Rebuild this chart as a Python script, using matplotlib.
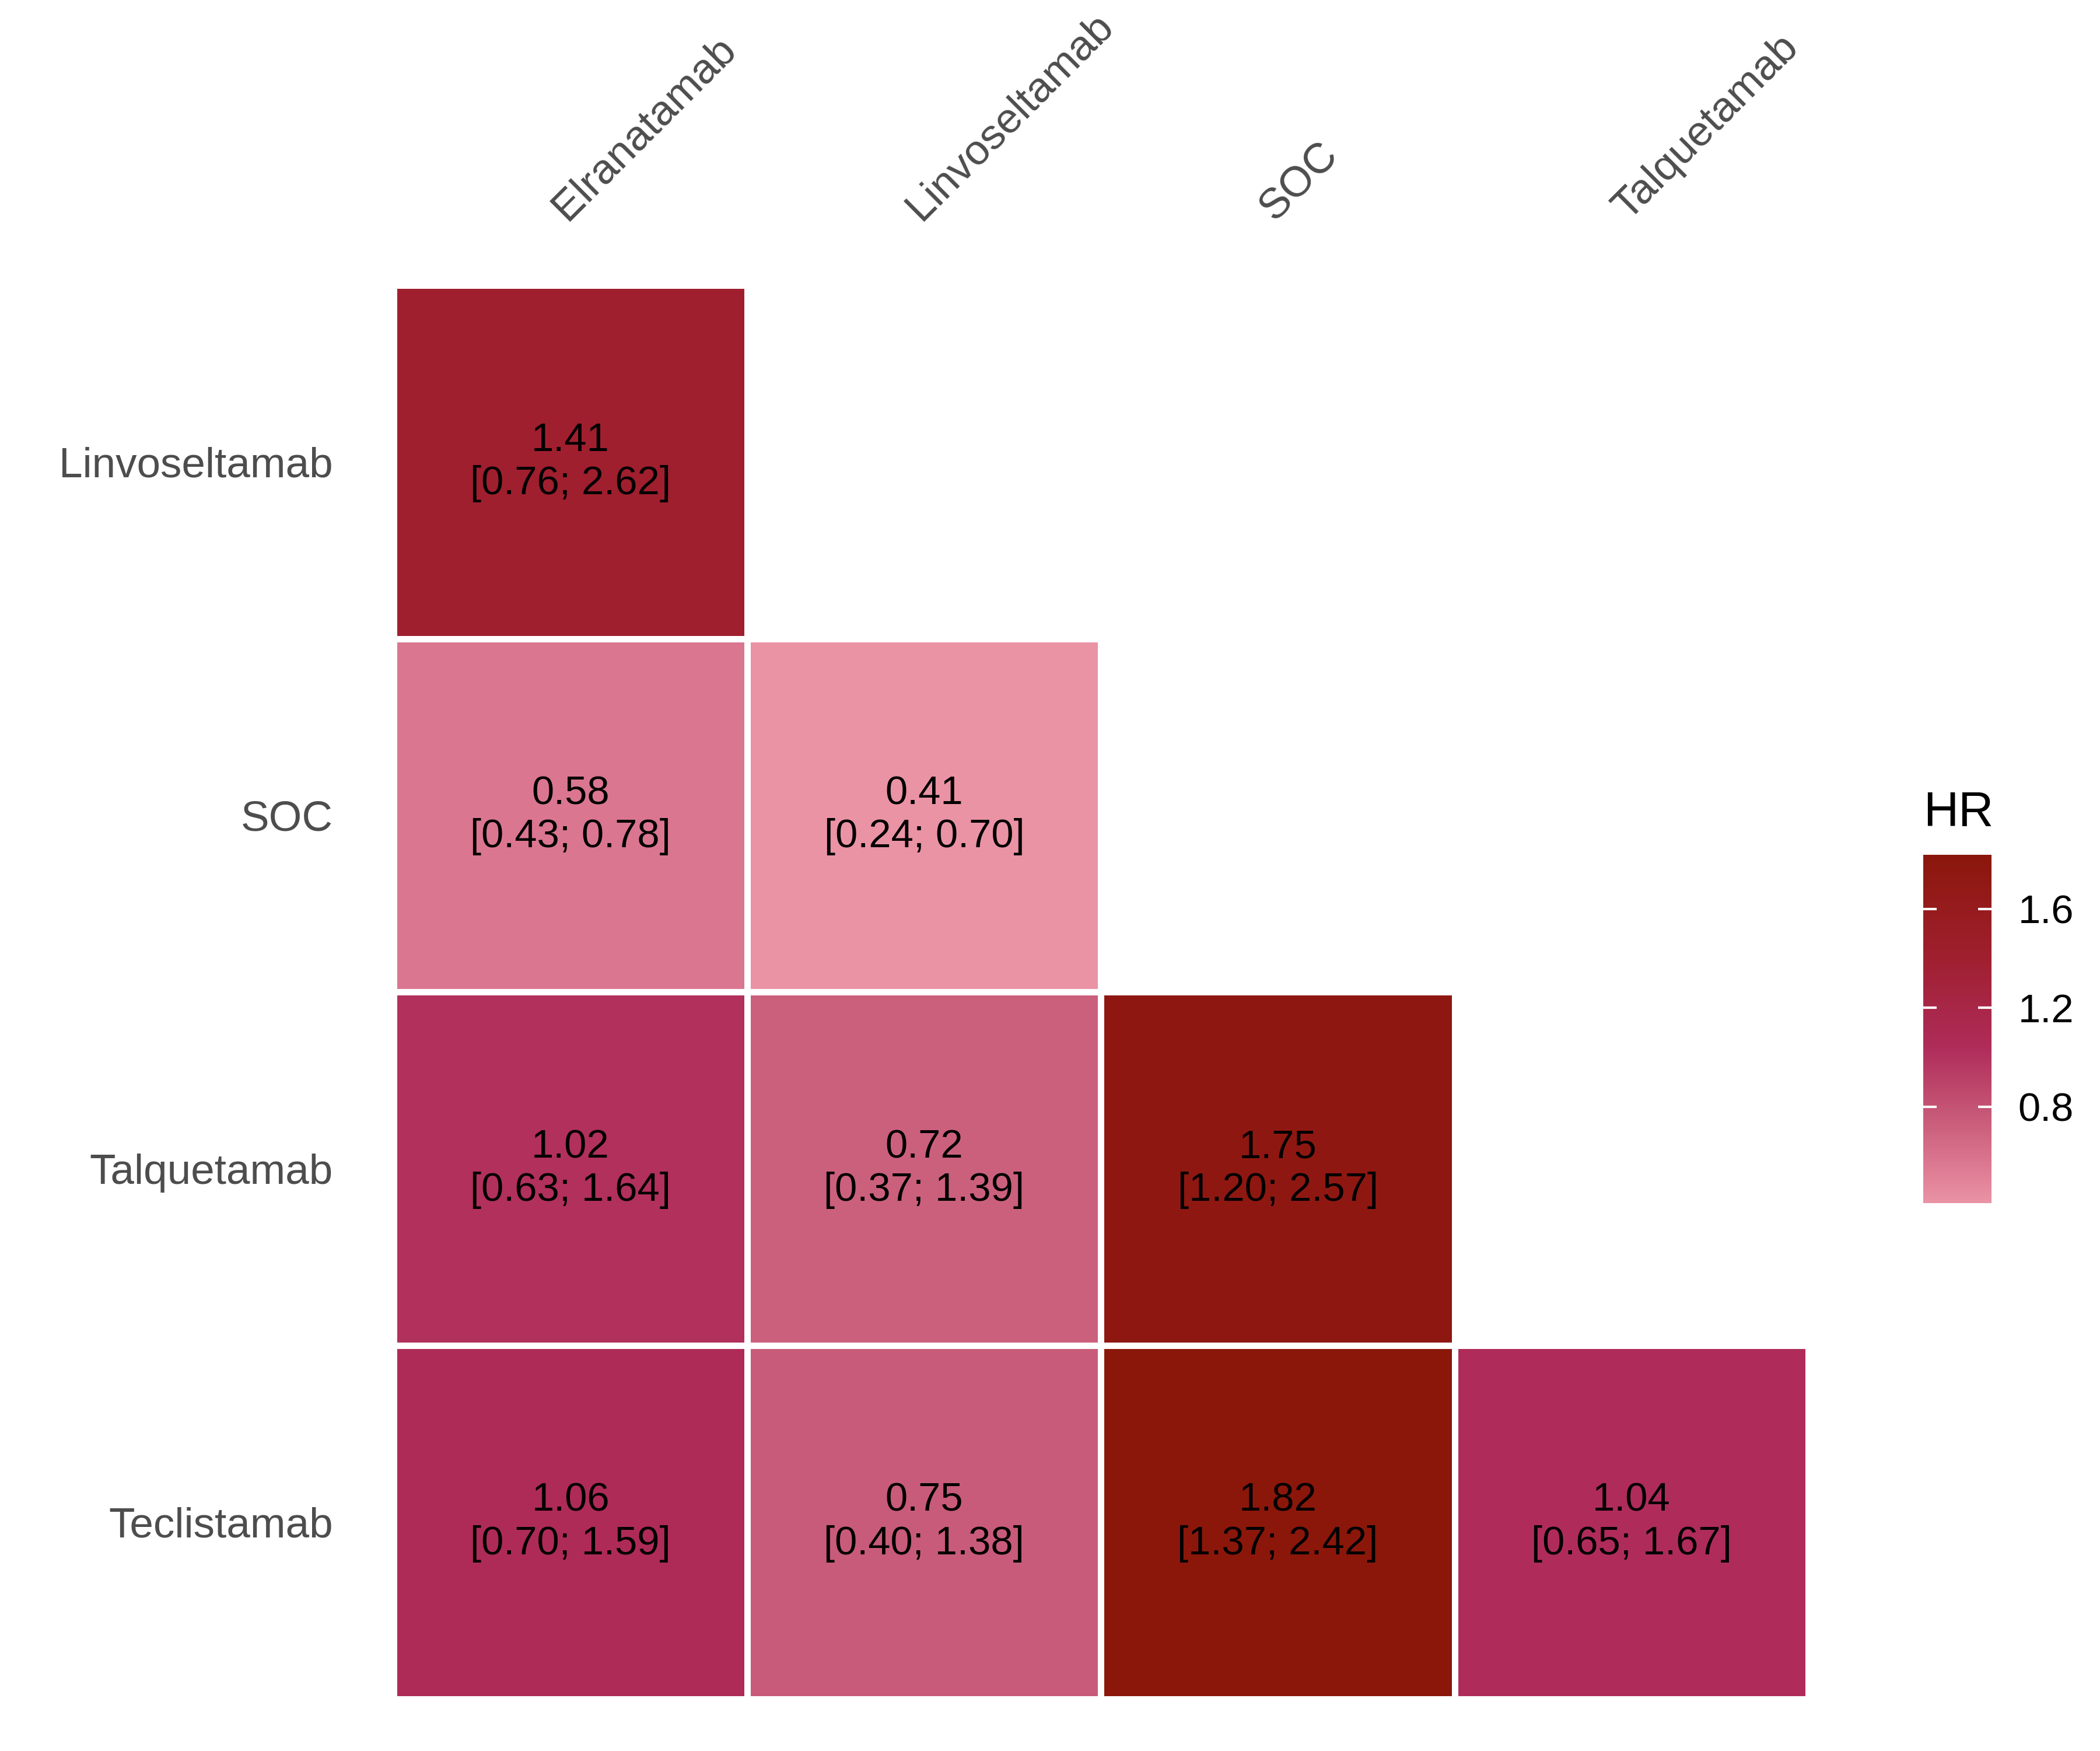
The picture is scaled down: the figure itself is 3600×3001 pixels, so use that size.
import numpy as np
import matplotlib
matplotlib.use("Agg")
import matplotlib.pyplot as plt
from matplotlib.colors import LinearSegmentedColormap, Normalize

plt.rcParams['font.family'] = ['Liberation Sans', 'DejaVu Sans']

# treatments (rows top->bottom, columns left->right)
row_names = ['Linvoseltamab', 'SOC', 'Talquetamab', 'Teclistamab']
col_names = ['Elranatamab', 'Linvoseltamab', 'SOC', 'Talquetamab']

# hazard ratios, lower-triangle only (nan = empty)
hr = np.array([
    [1.41, np.nan, np.nan, np.nan],
    [0.58, 0.41, np.nan, np.nan],
    [1.02, 0.72, 1.75, np.nan],
    [1.06, 0.75, 1.82, 1.04],
])
ci_low = np.array([
    [0.76, np.nan, np.nan, np.nan],
    [0.43, 0.24, np.nan, np.nan],
    [0.63, 0.37, 1.20, np.nan],
    [0.70, 0.40, 1.37, 0.65],
])
ci_high = np.array([
    [2.62, np.nan, np.nan, np.nan],
    [0.78, 0.70, np.nan, np.nan],
    [1.64, 1.39, 2.57, np.nan],
    [1.59, 1.38, 2.42, 1.67],
])
cbar_ticks = [0.8, 1.2, 1.6]

# colour ramp (pink -> magenta -> dark red)
vmin, vmax = np.nanmin(hr), np.nanmax(hr)
anchors = [(0.41, '#EA93A5'), (0.58, '#DA758F'), (0.75, '#C85B79'),
           (1.04, '#AF2C5A'), (1.41, '#9F1F2E'), (1.82, '#8B170B')]
cmap = LinearSegmentedColormap.from_list(
    'hr', [((v - vmin) / (vmax - vmin), c) for v, c in anchors])
norm = Normalize(vmin=vmin, vmax=vmax)

fig = plt.figure(figsize=(12, 3001 / 300), dpi=300)
ax = fig.add_axes([0.1875, 0.0297, 0.6736, 0.8074])

data = np.ma.masked_invalid(hr)
mesh = ax.pcolormesh(np.arange(5) - 0.5, np.arange(5) - 0.5, data,
                     cmap=cmap, norm=norm, edgecolors='white', linewidth=2.6)
ax.set_xlim(-0.5, 3.5)
ax.set_ylim(3.5, -0.5)

for i in range(4):
    for j in range(4):
        if np.isnan(hr[i, j]):
            continue
        ax.text(j, i, f"{hr[i, j]:.2f}\n[{ci_low[i, j]:.2f}; {ci_high[i, j]:.2f}]",
                ha='center', va='center', fontsize=16.5, color='black',
                linespacing=1.2)

for spine in ax.spines.values():
    spine.set_visible(False)

ax.set_yticks(range(4))
ax.set_yticklabels(row_names, fontsize=17.5, color='#4D4D4D')
ax.tick_params(axis='y', length=0, pad=25)
ax.set_xticks([])

for j, name in enumerate(col_names):
    ax.text(j - 0.01, -0.68, name, rotation=45, rotation_mode='anchor',
            ha='left', va='baseline', fontsize=17.5, color='#4D4D4D',
            clip_on=False)

# legend
cax = fig.add_axes([0.9158, 0.3129, 0.0325, 0.199])
cb = fig.colorbar(mesh, cax=cax, ticks=cbar_ticks)
cb.outline.set_visible(False)
cax.tick_params(axis='y', direction='in', length=5.5, width=1.0, color='white',
                left=True, right=True, labelsize=16.5, pad=11)
cax.set_yticklabels([f"{t:.1f}" for t in cbar_ticks])
fig.text(0.9160, 0.528, 'HR', fontsize=20, ha='left', va='baseline')

fig.savefig('out.png', dpi=300, facecolor='white')
